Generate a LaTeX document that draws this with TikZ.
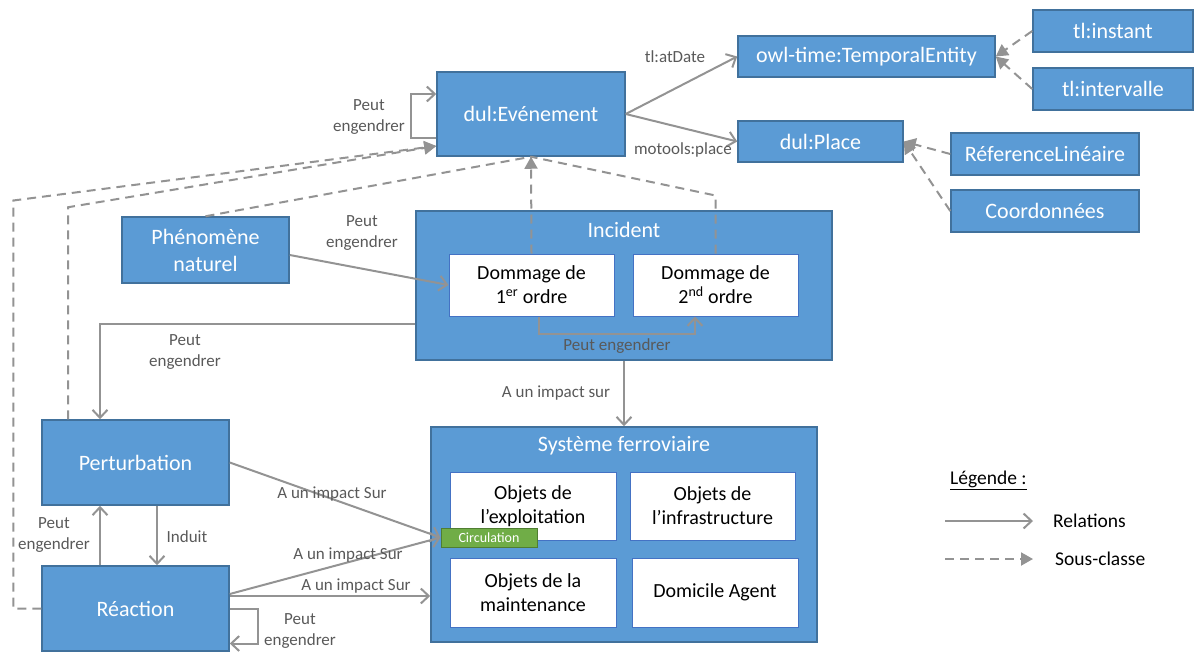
\documentclass[tikz,border=0pt]{standalone}
\usepackage{fontspec}
\setmainfont{Carlito}
\usetikzlibrary{positioning,arrows.meta,calc}
\definecolor{boxblue}{HTML}{5B9BD5}
\definecolor{boxedge}{HTML}{41719C}
\definecolor{subedge}{HTML}{4472C4}
\definecolor{arrowgray}{HTML}{939393}
\definecolor{labelgray}{HTML}{595959}
\definecolor{circgreen}{HTML}{70AD47}
\definecolor{circedge}{HTML}{507E32}

\begin{document}
\begin{tikzpicture}[x=1pt, y=-1pt,
  cls/.style={draw=boxedge, fill=boxblue, text=white, line width=1.5pt,
              inner sep=1pt, align=center, font=\fontsize{22}{27}\selectfont},
  grp/.style={draw=boxedge, fill=boxblue, line width=1.5pt, inner sep=0pt},
  ttl/.style={text=white, font=\fontsize{22}{27}\selectfont, inner sep=0pt},
  sub/.style={draw=subedge, fill=white, line width=1pt, align=center,
              font=\fontsize{20}{24}\selectfont, inner sep=1pt},
  rel/.style={-{Straight Barb[length=8pt,width=15pt]}, line width=2pt, arrowgray},
  isa/.style={-{Triangle[length=12pt,width=13pt]}, line width=2pt, arrowgray,
              dash pattern=on 9pt off 6pt},
  isaline/.style={line width=2pt, arrowgray, dash pattern=on 9pt off 6pt},
  lbl/.style={font=\fontsize{17}{21}\selectfont, text=labelgray, align=center, inner sep=1pt},
  legtxt/.style={font=\fontsize{19.5}{23}\selectfont, anchor=west, inner sep=0pt},
]
\useasboundingbox (0,0) rectangle (1194,653);

% evenement, time and place
\node[cls, minimum width=188pt, minimum height=84pt] (evt) at (531,114) {dul:Evénement};
\node[cls, minimum width=257pt, minimum height=41pt] (temp) at (866.5,56.5) {owl-time:TemporalEntity};
\node[cls, minimum width=165pt, minimum height=41pt] (place) at (820.5,141.5) {dul:Place};
\node[cls, minimum width=160pt, minimum height=42pt] (inst) at (1113,31) {tl:instant};
\node[cls, minimum width=160pt, minimum height=42pt] (interv) at (1113,89) {tl:intervalle};
\node[cls, minimum width=188pt, minimum height=42pt] (refl) at (1045,154) {RéferenceLinéaire};
\node[cls, minimum width=188pt, minimum height=42pt] (coord) at (1045,211) {Coordonnées};

\draw[rel] (evt.east) -- (temp.west);
\draw[rel] (evt.east) -- (place.west);
\node[lbl] (lAtDate) at (675,57) {tl:atDate};
\node[lbl] (lPlace) at (683,150) {motools:place};
\draw[isa] (inst.west) -- (temp.east);
\draw[isa] (interv.west) -- (temp.east);
\draw[isa] (refl.west) -- (place.east);
\draw[isa] (coord.west) -- (place.east);

% self loop on evenement
\draw[rel] ([yshift=-24pt]evt.west) -- ++(-25,0) -- ++(0,-44) -- ([yshift=20pt]evt.west);
\node[lbl] (lLoopE) at (369,117) {Peut\\engendrer};

% phenomene + incident
\node[cls, minimum width=167pt, minimum height=66pt] (phen) at (205.5,250) {Phénomène\\naturel};
\node[grp, minimum width=416pt, minimum height=149pt] (inc) at (624,285.5) {};
\node[ttl] (incT) at (624,230) {Incident};
\node[sub, minimum width=165pt, minimum height=62pt] (dom1) at (531.5,285) {Dommage de\\1\textsuperscript{er} ordre};
\node[sub, minimum width=165pt, minimum height=62pt] (dom2) at (715.5,285) {Dommage de\\2\textsuperscript{nd} ordre};

\draw[isaline] (phen.north) -- (evt.south);
\draw[isaline] (dom2.north) -- ++(0,-58) -- (evt.south);
\draw[isa] (dom1.north) -- (evt.south);
\draw[rel] ([yshift=-5pt]phen.east) -- (dom1.west);
\node[lbl] (lPhen) at (362,233) {Peut\\engendrer};
\draw[rel] ([xshift=7.5pt]dom1.south) -- ++(0,17) -| ([xshift=-20.5pt]dom2.south);
\node[lbl] (lDom) at (617,346) {Peut engendrer};

% perturbation / reaction
\node[cls, minimum width=187pt, minimum height=85pt] (pert) at (135.5,462.5) {Perturbation};
\node[cls, minimum width=187pt, minimum height=85pt] (reac) at (135.5,608.5) {Réaction};

\draw[rel] ([yshift=-38.5pt]inc.west) -| ([xshift=-35.5pt]pert.north);
\node[lbl] (lIncP) at (185,352) {Peut\\engendrer};
\draw[rel] ([xshift=-35.5pt]reac.north) -- ([xshift=-35.5pt]pert.south);
\node[lbl] (lReacP) at (54,535) {Peut\\engendrer};
\draw[rel] ([xshift=21.5pt]pert.south) -- ([xshift=21.5pt]reac.north);
\node[lbl] (lInduit) at (187,537) {Induit};
\draw[rel] (reac.east) -- ++(28,0) -- ++(0,35) -- ([yshift=-35pt]reac.east);
\node[lbl] (lLoopR) at (300,631) {Peut\\engendrer};

% subclass links to evenement
\draw[isa] (reac.west) -- ++(-28,0) -- ++(0,-408) -- ([yshift=-32pt]evt.west);
\draw[isa] ([xshift=-67.5pt]pert.north) -- ++(0,-212) -- ([yshift=-32pt]evt.west);

% systeme ferroviaire
\node[grp, minimum width=386pt, minimum height=215pt] (sys) at (624,534.5) {};
\node[ttl] (sysT) at (624,446) {Système ferroviaire};
\node[sub, minimum width=166pt, minimum height=68pt] (oexp) at (533,506) {Objets de\\l’exploitation};
\node[sub, minimum width=165pt, minimum height=68pt] (oinf) at (712.5,506) {Objets de\\l’infrastructure};
\node[sub, minimum width=166pt, minimum height=69pt] (omnt) at (533,592.5) {Objets de la\\maintenance};
\node[sub, minimum width=166pt, minimum height=69pt] (dom) at (715,592.5) {Domicile Agent};
\node[draw=circedge, fill=circgreen, text=white, line width=1pt, inner sep=0pt,
      minimum width=96pt, minimum height=19pt, font=\fontsize{14}{16}\selectfont] (circ) at (489,537.5) {Circulation};

\draw[rel] (inc.south) -- (sys.north);
\node[lbl] (lImpI) at (556,393) {A un impact sur};
\draw[rel] (pert.east) -- (circ.west);
\node[lbl] (lImpP) at (332,494) {A un impact Sur};
\draw[rel] ([yshift=14.5pt]reac.east) -- (circ.west);
\node[lbl] (lImpRC) at (348,555) {A un impact Sur};
\coordinate (rs) at ([yshift=12.5pt]reac.east);
\draw[rel] (rs) -- (rs -| sys.west);
\node[lbl] (lImpRS) at (356,586) {A un impact Sur};

% legende
\node[legtxt] (legT) at (950,480) {\underline{Légende :}};
\coordinate (relA) at (945,521);
\coordinate (relB) at (1033,521);
\draw[rel] (relA) -- (relB);
\node[legtxt] (legRel) at (1053,521) {Relations};
\coordinate (isaA) at (945,559);
\coordinate (isaB) at (1033,559);
\draw[isa] (isaA) -- (isaB);
\node[legtxt] (legIsa) at (1055,559) {Sous-classe};
\end{tikzpicture}
\end{document}
